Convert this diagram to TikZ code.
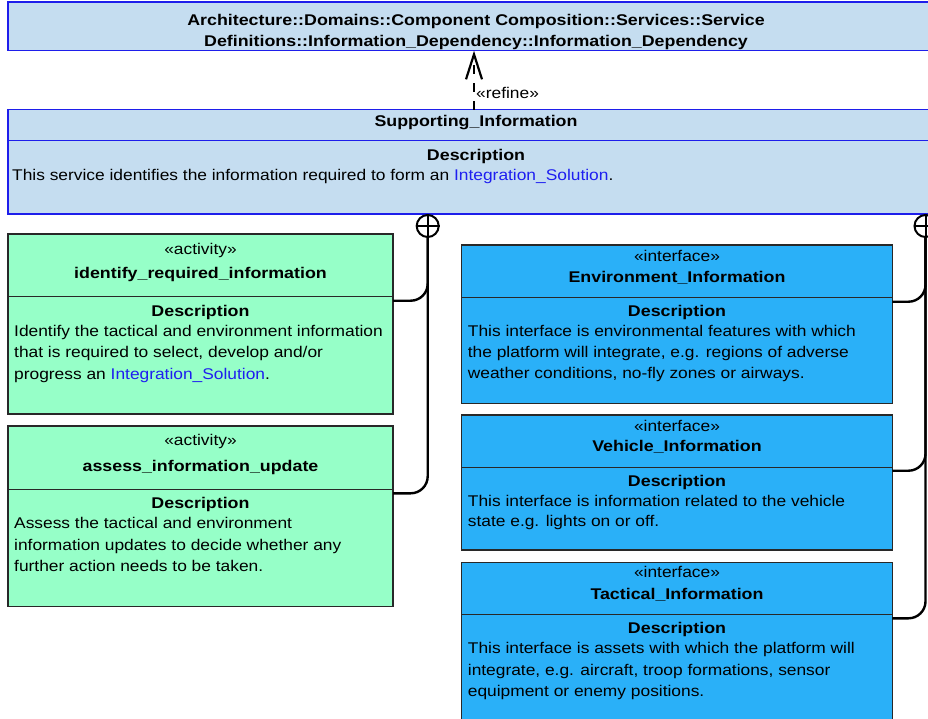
\documentclass[tikz,border=0pt]{standalone}
\usepackage{fontspec}
\setmainfont{Liberation Sans}[FakeStretch=1.12,BoldFeatures={FakeStretch=1.15}]
\usetikzlibrary{arrows.meta}
\definecolor{svcfill}{RGB}{197,221,240}
\definecolor{svcline}{RGB}{30,30,235}
\definecolor{actfill}{RGB}{150,255,200}
\definecolor{iffill}{RGB}{42,176,248}
\definecolor{boxline}{RGB}{40,40,40}
\definecolor{link}{RGB}{30,30,240}

\begin{document}
\begin{tikzpicture}[x=1pt,y=-1pt,
  font=\fontsize{15.5}{21.5}\selectfont,
  box/.style={anchor=north west,inner sep=0pt,outer sep=0pt,line width=1.2pt},
  svc/.style={box,draw=svcline,fill=svcfill},
  act/.style={box,draw=boxline,fill=actfill},
  iface/.style={box,draw=boxline,fill=iffill},
  sep/.style={line width=1.2pt},
  ctr/.style={anchor=base,inner sep=0pt},
  hdr/.style={ctr,font=\fontsize{15.5}{21.5}\selectfont\bfseries},
  lft/.style={anchor=base west,inner sep=0pt},
  conn/.style={line width=2.4pt,rounded corners=17pt},
  owner/.style={circle,draw,fill=white,line width=2pt,minimum size=22pt,inner sep=0pt},
  refine/.style={line width=2.6pt,dash pattern=on 9pt off 9pt,
    -{Straight Barb[length=25pt,width=16pt,line width=2.2pt]}}]

\useasboundingbox (0,0) rectangle (928,718);
\clip (0,0) rectangle (928,718);
\fill[white] (0,0) rectangle (928,718);

% service definition being refined
\node[svc,minimum width=940pt,minimum height=48.7pt] (dom) at (8,2) {};
\node[hdr] (domt1) at (476,25)
  {Architecture::Domains::Component Composition::Services::Service};
\node[hdr] (domt2) at (476,46)
  {Definitions::Information\_Dependency::Information\_Dependency};

% the refining service
\node[svc,minimum width=940pt,minimum height=104.5pt] (si) at (8,109.5) {};
\draw[sep,svcline] (8,140.7) -- (948,140.7);
\node[hdr] (sit) at (476,126.7) {Supporting\_Information};
\node[hdr] (sid) at (476,160) {Description};
\node[lft] (sil1) at (12,180)
  {This service identifies the information required to form an \textcolor{link}{Integration\_Solution}.};

% refine dependency
\coordinate (rf) at (474,109.5);
\draw[refine] (rf) -- (rf |- dom.south);
\node[lft] (rfl) at (476,98) {«refine»};

% activities
\node[act,minimum width=385pt,minimum height=180pt] (g1) at (8,234) {};
\draw[sep,boxline] (8,296.7) -- (393,296.7);
\node[ctr] at (200.5,254) {«activity»};
\node[hdr] at (200.5,278) {identify\_required\_information};
\node[hdr] at (200.5,316) {Description};
\node[lft] at (14,336) {Identify the tactical and environment information};
\node[lft] at (14,357.7) {that is required to select, develop and/or};
\node[lft] at (14,379) {progress an \textcolor{link}{Integration\_Solution}.};

\node[act,minimum width=385pt,minimum height=180.7pt] (g2) at (8,426) {};
\draw[sep,boxline] (8,489.3) -- (393,489.3);
\node[ctr] at (200.5,445) {«activity»};
\node[hdr] at (200.5,471.7) {assess\_information\_update};
\node[hdr] at (200.5,508.3) {Description};
\node[lft] at (14,528.3) {Assess the tactical and environment};
\node[lft] at (14,550) {information updates to decide whether any};
\node[lft] at (14,571) {further action needs to be taken.};

% interfaces
\node[iface,minimum width=430.6pt,minimum height=158.3pt] (e1) at (461.7,245) {};
\draw[sep,boxline] (461.7,297.3) -- (892.3,297.3);
\node[ctr] at (677,261.7) {«interface»};
\node[hdr] at (677,282.7) {Environment\_Information};
\node[hdr] at (677,316.7) {Description};
\node[lft] at (467.7,336) {This interface is environmental features with which};
\node[lft] at (467.7,357.3) {the platform will integrate, e.g. regions of adverse};
\node[lft] at (467.7,378.7) {weather conditions, no-fly zones or airways.};

\node[iface,minimum width=430.6pt,minimum height=135pt] (e2) at (461.7,415) {};
\draw[sep,boxline] (461.7,467.3) -- (892.3,467.3);
\node[ctr] at (677,431) {«interface»};
\node[hdr] at (677,451.7) {Vehicle\_Information};
\node[hdr] at (677,486.7) {Description};
\node[lft] at (467.7,506) {This interface is information related to the vehicle};
\node[lft] at (467.7,526.7) {state e.g. lights on or off.};

\node[iface,minimum width=430.6pt,minimum height=170pt] (e3) at (461.7,562.3) {};
\draw[sep,boxline] (461.7,614.3) -- (892.3,614.3);
\node[ctr] at (677,577.7) {«interface»};
\node[hdr] at (677,599) {Tactical\_Information};
\node[hdr] at (677,633.3) {Description};
\node[lft] at (467.7,653.3) {This interface is assets with which the platform will};
\node[lft] at (467.7,675) {integrate, e.g. aircraft, troop formations, sensor};
\node[lft] at (467.7,696) {equipment or enemy positions.};

% containment connectors
\node[owner] (c1) at (427.7,226) {};
\draw[line width=2pt] (c1.north) -- (c1.south) (c1.west) -- (c1.east);
\coordinate (g1p) at (393,300.7);
\coordinate (g2p) at (393,493.3);
\draw[conn] (c1.south) |- (g1p);
\draw[conn] (c1.south) |- (g2p);

\node[owner] (c2) at (925.5,226) {};
\draw[line width=2pt] (c2.north) -- (c2.south) (c2.west) -- (c2.east);
\coordinate (e1p) at (892.3,301.7);
\coordinate (e2p) at (892.3,470.7);
\coordinate (e3p) at (892.3,618.3);
\draw[conn] (c2.south) |- (e1p);
\draw[conn] (c2.south) |- (e2p);
\draw[conn] (c2.south) |- (e3p);
\end{tikzpicture}
\end{document}
